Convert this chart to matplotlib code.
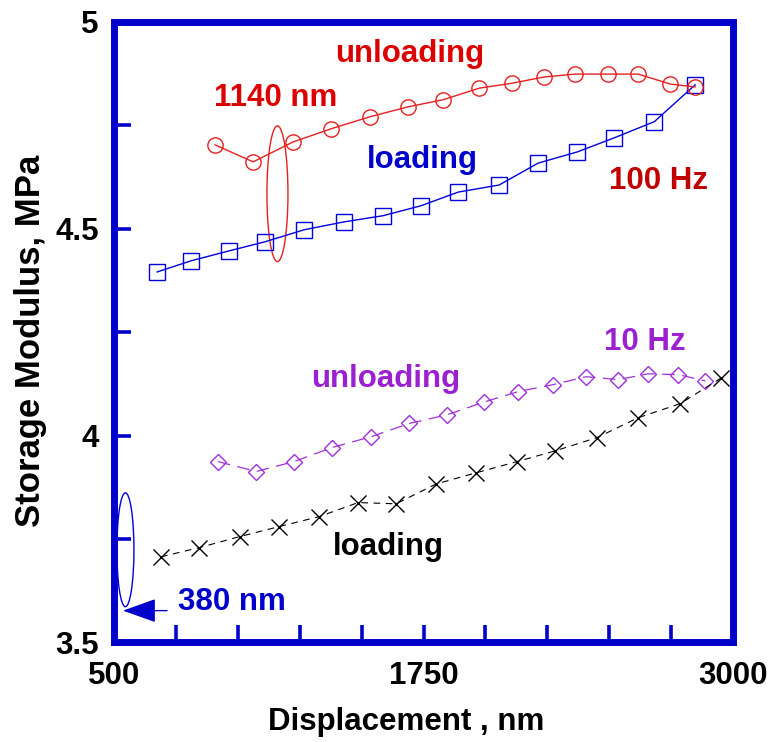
import matplotlib
matplotlib.use("Agg")
import matplotlib.pyplot as plt
from matplotlib.patches import Ellipse

plt.rcParams['font.family'] = ['Liberation Sans', 'DejaVu Sans']
plt.rcParams['font.weight'] = 'bold'

# ---- data ----
load100_x = [674, 811, 965, 1110, 1268, 1429, 1587, 1740, 1890, 2055, 2213, 2371, 2520, 2682, 2847]
load100_y = [4.395, 4.422, 4.446, 4.468, 4.497, 4.516, 4.531, 4.555, 4.588, 4.605, 4.658, 4.685, 4.719, 4.758, 4.847]

unload100_x = [908, 1062, 1223, 1377, 1534, 1688, 1829, 1975, 2108, 2237, 2362, 2496, 2617, 2746, 2847]
unload100_y = [4.702, 4.661, 4.709, 4.741, 4.770, 4.794, 4.811, 4.839, 4.851, 4.866, 4.873, 4.873, 4.873, 4.849, 4.842]

unload10_x = [920, 1074, 1227, 1381, 1538, 1692, 1845, 1995, 2132, 2274, 2407, 2536, 2657, 2779, 2888]
unload10_y = [3.937, 3.913, 3.937, 3.971, 3.997, 4.029, 4.050, 4.081, 4.106, 4.123, 4.142, 4.135, 4.149, 4.147, 4.132]

load10_x = [690, 843, 1009, 1167, 1328, 1486, 1639, 1801, 1963, 2128, 2282, 2451, 2617, 2787, 2952]
load10_y = [3.707, 3.729, 3.756, 3.780, 3.804, 3.838, 3.835, 3.883, 3.910, 3.937, 3.963, 3.995, 4.043, 4.077, 4.139]

x_ticks = [500, 750, 1000, 1250, 1500, 1750, 2000, 2250, 2500, 2750, 3000]
x_ticklabels = ['500', '', '', '', '', '1750', '', '', '', '', '3000']
y_ticks = [3.5, 3.75, 4.0, 4.25, 4.5, 4.75, 5.0]
y_ticklabels = ['3.5', '', '4', '', '4.5', '', '5']

# ---- colours ----
FRAME = '#0000cc'
RED = '#e62020'
RED_TXT = '#dd0000'
DARKRED = '#c00000'
BLUE = '#0000dd'
PURPLE = '#a030d8'
PURPLE_TXT = '#9b20d0'

fig = plt.figure(figsize=(7.73, 7.42), dpi=100)
ax = fig.add_axes([0.1475, 0.1341, 0.8008, 0.8369])

ax.plot(load100_x, load100_y, color=BLUE, lw=1.0, marker='s', ms=12,
        mfc='none', mec=BLUE, mew=1.0, zorder=3)
ax.plot(unload100_x, unload100_y, color=RED, lw=1.0, marker='o', ms=11,
        mfc='none', mec=RED, mew=1.0, zorder=3)
ax.plot(unload10_x, unload10_y, color=PURPLE, lw=0.9, ls=(0, (10, 6)), marker='D', ms=8.5,
        mfc='none', mec=PURPLE, mew=1.0, zorder=3)
ax.plot(load10_x, load10_y, color='black', lw=0.8, ls=(0, (6, 5)), marker='x', ms=12,
        mec='black', mew=1.0, zorder=3)

ax.set_xlim(500, 3000)
ax.set_ylim(3.5, 5.0)
ax.set_xticks(x_ticks)
ax.set_xticklabels(x_ticklabels)
ax.set_yticks(y_ticks)
ax.set_yticklabels(y_ticklabels)

for sp in ax.spines.values():
    sp.set_color(FRAME)
    sp.set_linewidth(5)

ax.tick_params(axis='both', direction='in', length=12.5, width=2.6, color=FRAME,
               labelsize=22.5, top=False, right=False)
ax.tick_params(axis='x', pad=13)
ax.tick_params(axis='y', pad=11)
for lab in ax.get_xticklabels() + ax.get_yticklabels():
    lab.set_fontweight('bold')

ax.set_xlabel('Displacement , nm', fontsize=22.5, fontweight='bold')
ax.set_ylabel('Storage Modulus, MPa', fontsize=25, fontweight='bold')
ax.xaxis.set_label_coords(0.472, -0.104)
ax.yaxis.set_label_coords(-0.108, 0.4855)

# ellipses
ax.add_patch(Ellipse((1160, 4.584), 85, 0.328, fill=False, ec=RED, lw=1.0, zorder=2))
ax.add_patch(Ellipse((546, 3.724), 69, 0.275, fill=False, ec=BLUE, lw=1.0, zorder=2))

# annotations
fs = 22.5
ax.text(1393, 4.902, 'unloading', color=RED_TXT, fontsize=fs, fontweight='bold', ha='left', va='baseline')
ax.text(904, 4.796, '1140 nm', color=RED_TXT, fontsize=fs, fontweight='bold', ha='left', va='baseline')
ax.text(1522, 4.646, 'loading', color=FRAME, fontsize=fs, fontweight='bold', ha='left', va='baseline')
ax.text(2500, 4.596, '100 Hz', color=DARKRED, fontsize=fs, fontweight='bold', ha='left', va='baseline')
ax.text(2480, 4.207, '10 Hz', color=PURPLE_TXT, fontsize=fs, fontweight='bold', ha='left', va='baseline')
ax.text(1296, 4.118, 'unloading', color=PURPLE_TXT, fontsize=fs, fontweight='bold', ha='left', va='baseline')
ax.text(1385, 3.712, 'loading', color='black', fontsize=fs, fontweight='bold', ha='left', va='baseline')
ax.text(759, 3.579, '380 nm', color=FRAME, fontsize=fs, fontweight='bold', ha='left', va='baseline')

ax.annotate('', xy=(536, 3.577), xytext=(714, 3.577),
            arrowprops=dict(arrowstyle='-|>,head_length=1.4,head_width=0.5',
                            mutation_scale=15, color=FRAME, lw=1.0,
                            shrinkA=0, shrinkB=0))

fig.savefig('out.png', dpi=100)
